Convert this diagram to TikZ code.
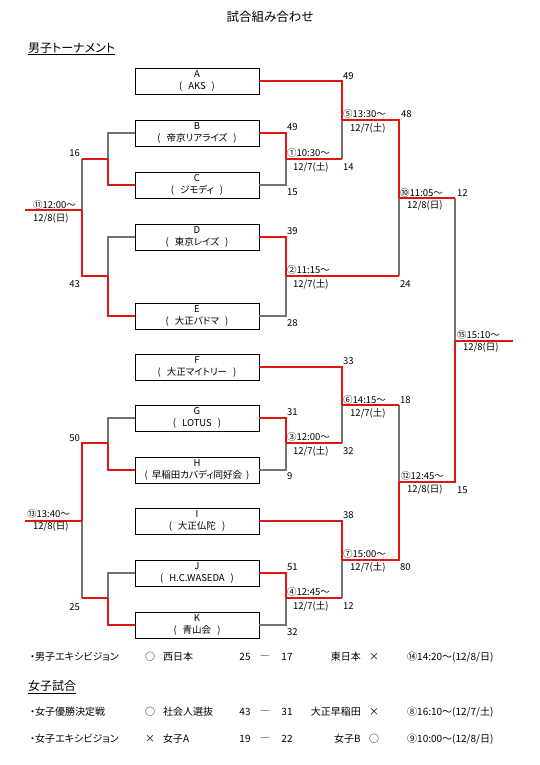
\documentclass[tikz,border=0pt]{standalone}
\usepackage{fontspec}
\setmainfont{Noto Sans CJK JP}[RawFeature=+palt]
\newcommand\tm[1]{(\hspace{6pt}#1\hspace{6pt})}
\definecolor{winred}{RGB}{225,20,20}
\definecolor{losegray}{RGB}{115,115,115}
\begin{document}
\begin{tikzpicture}[x=1pt,y=-1pt,
  teambox/.style={draw=black, line width=0.6pt, minimum width=124pt, minimum height=26pt,
    inner sep=0pt, align=center, font=\fontsize{9.5}{12}\selectfont},
  win/.style={draw=winred, line width=1.3pt},
  lose/.style={draw=losegray, line width=1.2pt},
  lbl/.style={anchor=west, inner sep=0pt, font=\fontsize{9.5}{11}\selectfont},
  lbr/.style={anchor=east, inner sep=0pt, font=\fontsize{9.5}{11}\selectfont},
  row/.style={anchor=west, inner sep=0pt, font=\fontsize{10}{12}\selectfont},
  rowr/.style={anchor=east, inner sep=0pt, font=\fontsize{10}{12}\selectfont},
  rowc/.style={anchor=center, inner sep=0pt, font=\fontsize{10}{12}\selectfont},
  head/.style={anchor=west, inner sep=0pt, font=\fontsize{12}{14}\selectfont}]
\fill[white] (0,0) rectangle (539,765);
\useasboundingbox (0,0) rectangle (539,765);

% title and headings
\node[inner sep=0pt, font=\fontsize{12.5}{14}\selectfont] (title) at (270,17) {試合組み合わせ};
\node[head] (hmen) at (28,49) {\underline{男子トーナメント}};

% team boxes
\node[teambox] (A) at (197,81)  {A\\\tm{AKS}};
\node[teambox] (B) at (197,133) {B\\\tm{帝京リアライズ}};
\node[teambox] (C) at (197,185) {C\\\tm{ジモディ}};
\node[teambox] (D) at (197,237) {D\\\tm{東京レイズ}};
\node[teambox] (E) at (197,316) {E\\\tm{大正パドマ}};
\node[teambox] (F) at (197,367) {F\\\tm{大正マイトリー}};
\node[teambox] (G) at (197,418) {G\\\tm{LOTUS}};
\node[teambox] (H) at (197,470) {H\\(\hspace{4pt}早稲田カバディ同好会\hspace{4pt})};
\node[teambox] (I) at (197,521) {I\\\tm{大正仏陀}};
\node[teambox] (J) at (197,573) {J\\\tm{H.C.WASEDA}};
\node[teambox] (K) at (197,625) {K\\\tm{青山会}};
\foreach \n in {A,B,C,D,E,F,G,H,I,J,K}
  \draw[line width=1.4pt, black] (\n.south west) -- (\n.south east) -- (\n.north east);

% junction coordinates (right)
\coordinate (m1) at (286,159);  \coordinate (m1e) at (342,159);
\coordinate (m5) at (342,120);  \coordinate (m10) at (399,198);
\coordinate (m2) at (286,276);  \coordinate (m2e) at (399,276);
\coordinate (m10e) at (455,198); \coordinate (m15) at (455,341);
\coordinate (fin) at (513,341);
\coordinate (m3) at (286,443);  \coordinate (m3e) at (342,443);
\coordinate (m6) at (342,405);  \coordinate (m6e) at (399,405);
\coordinate (m12) at (399,482); \coordinate (m12e) at (455,482);
\coordinate (m4) at (286,598);  \coordinate (m4e) at (342,598);
\coordinate (m7) at (342,560);  \coordinate (m7e) at (399,560);
% junction coordinates (left)
\coordinate (l1) at (108,159);  \coordinate (l1e) at (82,159);
\coordinate (l2) at (108,276);  \coordinate (l2e) at (82,276);
\coordinate (m11) at (82,210);  \coordinate (m11w) at (25,210);
\coordinate (l3) at (108,443);  \coordinate (l3e) at (82,443);
\coordinate (l4) at (108,598);  \coordinate (l4e) at (82,598);
\coordinate (m13) at (82,521);  \coordinate (m13w) at (25,521);

% right bracket
\draw[lose] (C.east) -| (m1);
\draw[lose] (m1e) -- (m5);
\draw[lose] (E.east) -| (m2);
\draw[lose] (m2e) -- (m10);
\draw[lose] (m10e) -- (m15);
\draw[lose] (H.east) -| (m3);
\draw[lose] (m3e) -- (m6);
\draw[lose] (m6e) -- (m12);
\draw[lose] (K.east) -| (m4);
\draw[lose] (m4e) -- (m7);
\draw[win] (A.east) -| (m5);
\draw[win] (B.east) -| (m1);
\draw[win] (m1) -- (m1e);
\draw[win] (m5) -| (m10);
\draw[win] (D.east) -| (m2);
\draw[win] (m2) -- (m2e);
\draw[win] (m10) -- (m10e);
\draw[win] (m15) -- (fin);
\draw[win] (F.east) -| (m6);
\draw[win] (G.east) -| (m3);
\draw[win] (m3) -- (m3e);
\draw[win] (m6) -- (m6e);
\draw[win] (m12) -- (m12e) -- (m15);
\draw[win] (I.east) -| (m7);
\draw[win] (J.east) -| (m4);
\draw[win] (m4) -- (m4e);
\draw[win] (m7) -- (m7e) -- (m12);

% left bracket
\draw[lose] (B.west) -| (l1);
\draw[lose] (l1e) -- (m11);
\draw[lose] (D.west) -| (l2);
\draw[lose] (G.west) -| (l3);
\draw[lose] (J.west) -| (l4);
\draw[lose] (l4e) -- (m13);
\draw[win] (C.west) -| (l1);
\draw[win] (l1) -- (l1e);
\draw[win] (E.west) -| (l2);
\draw[win] (l2) -- (l2e) -- (m11);
\draw[win] (m11) -- (m11w);
\draw[win] (H.west) -| (l3);
\draw[win] (l3) -- (l3e) -- (m13);
\draw[win] (K.west) -| (l4);
\draw[win] (l4) -- (l4e);
\draw[win] (m13) -- (m13w);

% right labels
\node[lbl] (sA) at (343,76) {49};
\node[lbl] (sB) at (287,127) {49};
\node[lbl] (sC) at (287,192) {15};
\node[lbl] (t1) at (287,153) {①10:30〜};
\node[lbl] (d1) at (293,167) {12/7(土)};
\node[lbl] (s1) at (343,167) {14};
\node[lbl] (t5) at (343,114) {⑤13:30〜};
\node[lbl] (d5) at (350,128) {12/7(土)};
\node[lbl] (s5) at (401,114) {48};
\node[lbl] (t10) at (400,193) {⑩11:05〜};
\node[lbl] (d10) at (407,206) {12/8(日)};
\node[lbl] (s10) at (457,193) {12};
\node[lbl] (sD) at (287,231) {39};
\node[lbl] (t2) at (287,270) {②11:15〜};
\node[lbl] (d2) at (293,284) {12/7(土)};
\node[lbl] (sE) at (287,323) {28};
\node[lbl] (s2) at (400,284) {24};
\node[lbl] (t15) at (457,335) {⑮15:10〜};
\node[lbl] (d15) at (463,348) {12/8(日)};
\node[lbl] (sF) at (343,361) {33};
\node[lbl] (t6) at (343,400) {⑥14:15〜};
\node[lbl] (d6) at (350,413) {12/7(土)};
\node[lbl] (s6) at (400,400) {18};
\node[lbl] (sG) at (287,412) {31};
\node[lbl] (t3) at (287,437) {③12:00〜};
\node[lbl] (d3) at (293,451) {12/7(土)};
\node[lbl] (s3) at (343,451) {32};
\node[lbl] (sH) at (287,476) {9};
\node[lbl] (t12) at (401,476) {⑫12:45〜};
\node[lbl] (d12) at (407,490) {12/8(日)};
\node[lbl] (s12) at (457,490) {15};
\node[lbl] (sI) at (343,515) {38};
\node[lbl] (t7) at (343,554) {⑦15:00〜};
\node[lbl] (d7) at (350,567) {12/7(土)};
\node[lbl] (s7) at (400,567) {80};
\node[lbl] (sJ) at (287,567) {51};
\node[lbl] (t4) at (287,592) {④12:45〜};
\node[lbl] (d4) at (293,606) {12/7(土)};
\node[lbl] (s4) at (343,606) {12};
\node[lbl] (sK) at (287,632) {32};

% left labels
\node[lbr] (ls1) at (80,153) {16};
\node[lbr] (ls2) at (80,284) {43};
\node[lbl] (t11) at (33,205) {⑪12:00〜};
\node[lbl] (d11) at (33,219) {12/8(日)};
\node[lbr] (ls3) at (80,438) {50};
\node[lbr] (ls4) at (80,607) {25};
\node[lbl] (t13) at (27,514) {⑬13:40〜};
\node[lbl] (d13) at (33,527) {12/8(日)};

% exhibition / women
\node[row]  (r1a) at (30,657) {・男子エキシビジョン};
\node[rowc] (r1b) at (150,657) {○};
\node[row]  (r1c) at (163,657) {西日本};
\node[rowc] (r1d) at (245,657) {25};
\node[rowc] (r1e) at (265,657) {―};
\node[rowc] (r1f) at (287,657) {17};
\node[rowr] (r1g) at (361,657) {東日本};
\node[rowc] (r1h) at (374,657) {×};
\node[row]  (r1i) at (407,657) {⑭14:20〜(12/8/日)};

\node[head] (hwomen) at (28,687) {\underline{女子試合}};

\node[row]  (r2a) at (30,712) {・女子優勝決定戦};
\node[rowc] (r2b) at (150,712) {○};
\node[row]  (r2c) at (163,712) {社会人選抜};
\node[rowc] (r2d) at (245,712) {43};
\node[rowc] (r2e) at (265,712) {―};
\node[rowc] (r2f) at (287,712) {31};
\node[rowr] (r2g) at (361,712) {大正早稲田};
\node[rowc] (r2h) at (374,712) {×};
\node[row]  (r2i) at (407,712) {⑧16:10〜(12/7/土)};

\node[row]  (r3a) at (30,739) {・女子エキシビジョン};
\node[rowc] (r3b) at (150,739) {×};
\node[row]  (r3c) at (163,739) {女子A};
\node[rowc] (r3d) at (245,739) {19};
\node[rowc] (r3e) at (265,739) {―};
\node[rowc] (r3f) at (287,739) {22};
\node[rowr] (r3g) at (361,739) {女子B};
\node[rowc] (r3h) at (374,739) {○};
\node[row]  (r3i) at (407,739) {⑨10:00〜(12/8/日)};
\end{tikzpicture}
\end{document}
